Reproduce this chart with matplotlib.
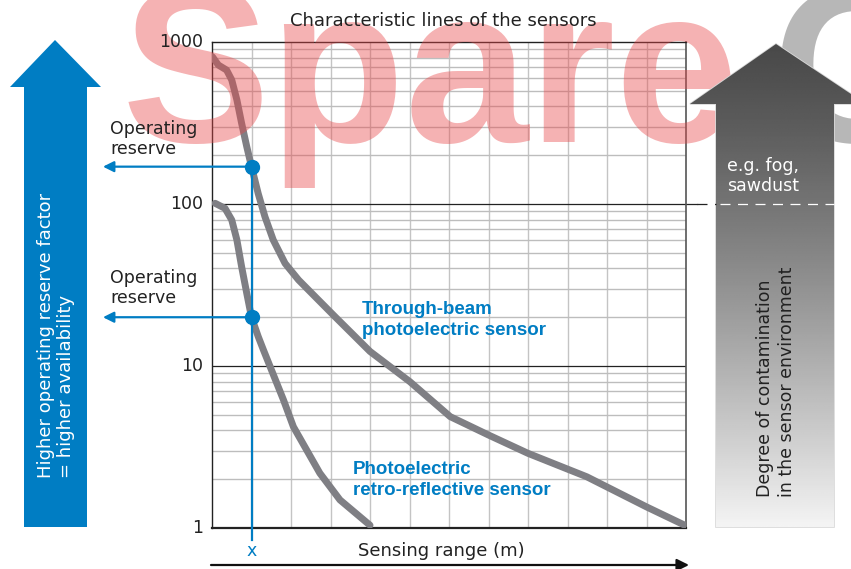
import matplotlib.pyplot as plt
import matplotlib.transforms as mtransforms
from matplotlib.patches import Polygon
import numpy as np

W, H = 851, 569

# sensing range in grid steps, operating reserve factor (log)
through_x = [0.01, 0.16, 0.37, 0.50, 0.63, 0.75, 0.88, 1.0, 1.17, 1.34, 1.55, 1.85,
             2.19, 2.61, 3.11, 3.54, 4.0, 5.01, 6.03, 7.0, 8.0, 9.49, 11.0, 11.97]
through_y = [811, 721, 671, 583, 439, 315, 226, 170, 116, 83.5, 60, 43,
             34, 26.8, 20.2, 15.9, 12.3, 8.0, 4.87, 3.75, 2.89, 2.07, 1.35, 1.04]
retro_x = [0.08, 0.33, 0.50, 0.63, 0.75, 0.88, 1.0, 1.17, 1.30, 1.81, 2.06,
           2.73, 3.24, 4.0]
retro_y = [101, 94, 79.7, 60, 41, 28.1, 20, 15.2, 12.6, 6.17, 4.22,
           2.18, 1.49, 1.04]

x_mark = 1.0
reserves = [170, 20]
y_ticks = [1, 10, 100, 1000]
y_labels = ["1", "10", "100", "1000"]
n_steps = 12

blue = "#007dc3"
curve_col = "#7f7f84"
txt = "#222222"

plt.rcParams['font.family'] = ['DejaVu Sans']

fig = plt.figure(figsize=(W / 100, H / 100), dpi=100)
ax = fig.add_axes([212 / W, 1 - 528 / H, (686 - 212) / W, (528 - 42) / H], zorder=1)
ax.set_yscale('log')
ax.set_xlim(0, n_steps)
ax.set_ylim(1, 1000)

# grid
for i in range(1, n_steps):
    ax.axvline(i, color="#c4c4c4", lw=1.0, zorder=1)
for dec in [1, 10, 100]:
    for k in range(2, 10):
        ax.axhline(dec * k, color="#bdbdbd", lw=1.0, zorder=1)
for v in [10, 100]:
    ax.axhline(v, color="#222222", lw=0.9, zorder=2)
# 100 line runs out past the frame
ax.plot([n_steps, n_steps + 0.28], [100, 100], color="#222222", lw=0.9, clip_on=False)

for s in ['left', 'top', 'bottom']:
    ax.spines[s].set_color("#222222")
ax.spines['left'].set_linewidth(1.0)
ax.spines['top'].set_linewidth(1.0)
ax.spines['bottom'].set_linewidth(1.6)
ax.spines['right'].set_color("#555555")
ax.spines['right'].set_linewidth(1.2)

ax.set_xticks([])
ax.set_yticks([])
ax.yaxis.set_minor_locator(plt.NullLocator())

# characteristic lines
ax.plot(through_x, through_y, color=curve_col, lw=5, solid_capstyle='round',
        solid_joinstyle='round', zorder=3)
ax.plot(retro_x, retro_y, color=curve_col, lw=5, solid_capstyle='round',
        solid_joinstyle='round', zorder=3)

# operating reserve markers
ax.plot([x_mark, x_mark], [reserves[0], 0.84], color=blue, lw=1.6, zorder=4, clip_on=False)
for r in reserves:
    ax.annotate('', xy=(-2.76, r), xytext=(x_mark, r),
                arrowprops=dict(arrowstyle='-|>', color=blue, lw=1.6,
                                mutation_scale=16, shrinkA=0, shrinkB=0),
                annotation_clip=False, zorder=4)
    ax.plot([x_mark], [r], 'o', color=blue, ms=10, zorder=5, clip_on=False)

ax.text(3.8, 19.3, "Through-beam\nphotoelectric sensor", color=blue, fontsize=13.5,
        fontweight='bold', family='Liberation Sans', va='center', ha='left',
        linespacing=1.3, zorder=6)
ax.text(3.57, 1.98, "Photoelectric\nretro-reflective sensor", color=blue, fontsize=13.5,
        fontweight='bold', family='Liberation Sans', va='center', ha='left',
        linespacing=1.3, zorder=6)

# overlay in pixel coordinates for the side decorations
ov = fig.add_axes([0, 0, 1, 1], zorder=3)
ov.set_xlim(0, W)
ov.set_ylim(H, 0)
ov.axis('off')
ov.patch.set_alpha(0)

# watermark, under the arrows and texts
ov.text(122, 142, "Spare", color="#e8484a", alpha=0.42, fontsize=160,
        fontweight='bold', family='Liberation Sans', ha='left', va='baseline', zorder=0.5)
ov.text(772, 142, "C", color="#555555", alpha=0.42, fontsize=160,
        fontweight='bold', family='Liberation Sans', ha='left', va='baseline', zorder=0.5)

# blue arrow on the left
blue_arrow = Polygon([(55, 40), (101, 87), (87, 87), (87, 527), (24, 527), (24, 87), (10, 87)],
                     closed=True, facecolor=blue, edgecolor='none', zorder=1)
ov.add_patch(blue_arrow)
ov.text(56, 478, "Higher operating reserve factor\n= higher availability", rotation=90,
        color='white', fontsize=13, ha='center', va='bottom', multialignment='left',
        linespacing=1.1, zorder=5)

# grey gradient arrow on the right
grey_arrow = Polygon([(776, 44), (866, 104), (834, 104), (834, 527), (716, 527), (716, 104), (690, 104)],
                     closed=True, facecolor='white', edgecolor="#d8d8d8", lw=1.2, zorder=1)
ov.add_patch(grey_arrow)
t = np.linspace(0, 1, 256)
grad = ((74 + 170 * t ** 1.25) / 255).reshape(-1, 1)
im = ov.imshow(grad, extent=(686, 870, 527, 44), cmap='gray', vmin=0, vmax=1,
               aspect='auto', zorder=2, interpolation='bilinear')
im.set_clip_path(grey_arrow)
ov.set_xlim(0, W)
ov.set_ylim(H, 0)

mix = mtransforms.blended_transform_factory(ov.transData, ax.transData)
ov.plot([697, 716], [100, 100], transform=mix, color="#222222", lw=0.9,
        dashes=(8, 6), zorder=3)
ov.plot([720, 834], [100, 100], transform=mix, color="white", lw=0.9,
        dashes=(8, 6), zorder=3)

ov.text(727, 176, "e.g. fog,\nsawdust", color='white', fontsize=12.5, ha='left',
        va='center', linespacing=1.15, zorder=5)
ov.text(776, 497, "Degree of contamination\nin the sensor environment", rotation=90,
        color=txt, fontsize=12.5, ha='center', va='bottom', multialignment='left',
        linespacing=1.25, zorder=5)

# y tick labels
for v, lab in zip(y_ticks, y_labels):
    ov.text(203, v, lab, transform=mix, color=txt, fontsize=12.5, ha='right',
            va='center', zorder=5)

# texts around the plot
ov.text(443, 21, "Characteristic lines of the sensors", color=txt, fontsize=13,
        ha='center', va='center', zorder=5)
for yc in [139, 288]:
    ov.text(110, yc, "Operating\nreserve", color=txt, fontsize=12.5, ha='left',
            va='center', linespacing=1.1, zorder=5)
ov.text(252, 551, "x", color=blue, fontsize=12.5, ha='center', va='center', zorder=5)
ov.text(441, 551, "Sensing range (m)", color=txt, fontsize=13, ha='center',
        va='center', zorder=5)
ov.annotate('', xy=(689, 565), xytext=(211, 565),
            arrowprops=dict(arrowstyle='-|>', color="#111111", lw=1.6,
                            mutation_scale=18, shrinkA=0, shrinkB=0))

fig.savefig("out.png", dpi=100)
